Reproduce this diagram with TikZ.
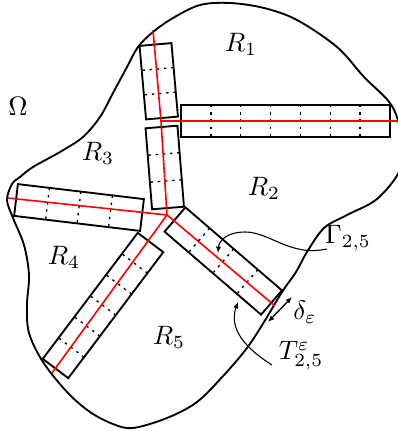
\documentclass[tikz,border=0pt]{standalone}
\newcommand{\tubew}{6pt}
\newcommand{\tubedraw}[3]{%
  \draw[tube] ($(#1)!\tubew!90:(#2)$) -- ($(#2)!\tubew!-90:(#1)$)
    -- ($(#2)!\tubew!90:(#1)$) -- ($(#1)!\tubew!-90:(#2)$) -- cycle;
  \foreach \k in {1,...,#3} {
    \pgfmathsetmacro{\tfr}{\k/(#3+1)}
    \coordinate (m) at ($(#1)!\tfr!(#2)$);
    \draw[divider] ($(m)!\tubew!90:(#2)$) -- ($(m)!\tubew!-90:(#2)$);
  }
}
\usepackage{tikz}
\usetikzlibrary{
  arrows.meta,
  calc
}

\begin{document}
\begin{tikzpicture}[x=0.375pt, y=-0.375pt]

\tikzset{
  tube/.style={
    draw,
    line width=0.7pt
  },
  divider/.style={
    dash pattern=on 0.9pt off 1.8pt,
    line width=0.5pt
  },
  edge/.style={
    red,
    line width=0.6pt
  },
  region/.style={
    font=\normalsize
  },
  >={Latex[length=2.4pt, width=2pt]},
  line width=0.7pt
}

\useasboundingbox (0,0) rectangle (397,431);

% DOMAIN ----------------------------------------------------------

\draw[line width=0.7pt] plot[smooth cycle, tension=0.55] coordinates {
  (138,47) (153,32) (173,18) (200,5) (230,3) (264,8) (297,20) (337,47)
  (364,77) (392,106) (402,140) (400,170) (377,199) (347,215) (324,228)
  (307,252) (296,272) (282,292) (264,322) (247,348) (224,375) (197,402)
  (167,418) (133,428) (113,424) (90,412) (67,392) (43,362)
  (29,333) (27,305) (29,275) (24,245) (13,218) (7,200) (12,184) (20,177)
  (33,167) (60,152) (83,137) (100,117) (113,93) (127,67)
};

% COORDINATES -----------------------------------------------------

% Interfaces (red skeleton)
\coordinate (p1) at (153,30);
\coordinate (a)  at (161,121);
\coordinate (p2) at (400,121);
\coordinate (b)  at (167,215);
\coordinate (p3) at (8,198);
\coordinate (p4) at (52,373);
\coordinate (p5) at (275,306);

% Tube axes
\coordinate (t13a) at (155.5,44.5);
\coordinate (t13b) at (162,118);
\coordinate (t12a) at (181,121);
\coordinate (t12b) at (390,121);
\coordinate (t23a) at (161.5,127);
\coordinate (t23b) at (168,208);
\coordinate (t34a) at (16,200);
\coordinate (t34b) at (142,215);
\coordinate (t45a) at (150.5,242.5);
\coordinate (t45b) at (55.5,368.5);
\coordinate (t25a) at (175,219.5);
\coordinate (t25b) at (271.5,302.5);

% DRAWS -----------------------------------------------------------

% Tubes + cells
\tubedraw{t13a}{t13b}{2}
\tubedraw{t12a}{t12b}{6}
\tubedraw{t23a}{t23b}{2}
\tubedraw{t34a}{t34b}{3}
\tubedraw{t45a}{t45b}{5}
\tubedraw{t25a}{t25b}{3}

% Interfaces
\draw[edge] (p1) -- (a) -- (p2);
\draw[edge] (a) -- (b);
\draw[edge] (p3) -- (b);
\draw[edge] (b) -- (p4);
\draw[edge] (b) -- (p5);

% LABELS ----------------------------------------------------------

\node[region] (omega) at (18,106) {$\Omega$};
\node[region] (r1) at (241,44) {$R_1$};
\node[region] (r2) at (264,188) {$R_2$};
\node[region] (r3) at (98,153) {$R_3$};
\node[region] (r4) at (64,257) {$R_4$};
\node[region] (r5) at (169,337) {$R_5$};
\node[region] (gam) at (348,238) {$\Gamma_{2,5}$};
\node[region] (delta) at (305,312) {$\delta_{\varepsilon}$};
\node[region] (tub) at (301,356) {$T^{\varepsilon}_{2,5}$};

% Pointers
\coordinate (gstart) at (327,249);
\coordinate (gtip)   at (218,253);
\coordinate (tstart) at (272,365);
\coordinate (ttip)   at (238,302);
\coordinate (dtop)   at (292,297);
\coordinate (dbot)   at (268,322);

\draw[->, line width=0.4pt] (gstart) .. controls (290,257) and (270,232) .. (245,232)
  .. controls (228,232) and (219,240) .. (gtip);
\draw[->, line width=0.4pt] (tstart) .. controls (248,350) and (228,330) .. (ttip);
\draw[<->, line width=0.5pt] (dtop) -- (dbot);

\end{tikzpicture}
\end{document}
